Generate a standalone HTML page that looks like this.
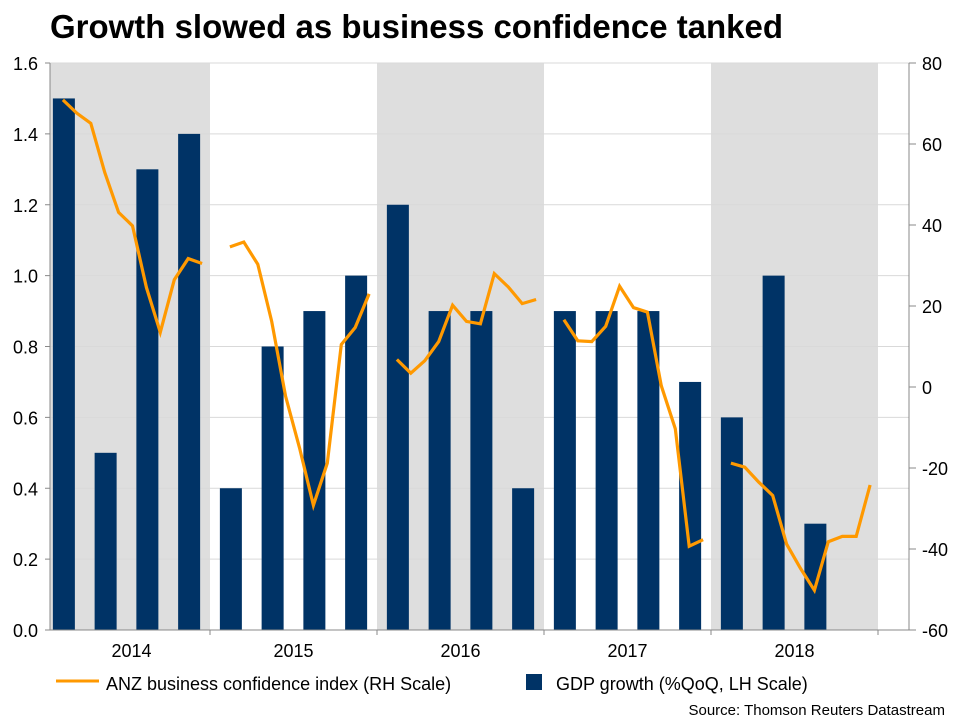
<!DOCTYPE html>
<html><head><meta charset="utf-8"><style>
body{margin:0;background:#fff;font-family:"Liberation Sans",Arial,sans-serif;}
svg text{font-family:"Liberation Sans",Arial,sans-serif;}
</style></head><body>
<svg id="chart" width="960" height="720" xmlns="http://www.w3.org/2000/svg">
<text x="50" y="38" font-size="33" font-weight="bold" fill="#000" textLength="733" lengthAdjust="spacingAndGlyphs">Growth slowed as business confidence tanked</text>
<g id="bg"></g><g id="grid"></g><g id="bars"></g><g id="line"></g><g id="axes"></g>
<g>
<line x1="56" y1="681" x2="99" y2="681" stroke="#FF9900" stroke-width="3"/>
<text x="106" y="690" font-size="18" fill="#000">ANZ business confidence index (RH Scale)</text>
<rect x="526" y="674" width="16" height="16" fill="#003366"/>
<text x="556" y="690" font-size="18" fill="#000">GDP growth (%QoQ, LH Scale)</text>
</g>
<text x="945" y="715" font-size="15" text-anchor="end" fill="#000">Source: Thomson Reuters Datastream</text>
</svg>
<script>
const years=["2014","2015","2016","2017","2018"];
const gdp=[1.5,0.5,1.3,1.4, 0.4,0.8,0.9,1.0, 1.2,0.9,0.9,0.4, 0.9,0.9,0.9,0.7, 0.6,1.0,0.3];
const anz2014=[null,70.9,67.6,65.1,53,43.1,39.8,24.6,13.5,26.5,31.7,30.5];
const anz2015=[null,34.6,35.8,30.3,16.2,-2.3,-15.0,-29.2,-18.8,10.5,14.7,23.0];
const anz2016=[null,6.8,3.4,6.5,11.2,20.2,16.2,15.6,28.0,24.7,20.6,21.6];
const anz2017=[null,16.6,11.4,11.2,15.0,24.9,19.6,18.5,0.3,-10.3,-39.3,-37.7];
const anz2018=[null,-18.8,-19.8,-23.5,-26.8,-38.8,-44.8,-50.2,-38.2,-36.9,-36.9,-24.2];
const leftTicks=[0,0.2,0.4,0.6,0.8,1.0,1.2,1.4,1.6];
const rightTicks=[-60,-40,-20,0,20,40,60,80];

const NS="http://www.w3.org/2000/svg";
const X0=43,YW=167,AXL=50,AXR=909,TOP=63,BOT=630;
const xYear=t=>X0+t*YW;
const yL=v=>BOT-(v/1.6)*(BOT-TOP);
const yR=v=>BOT-((v+60)/140)*(BOT-TOP);
function mk(tag,attrs,parent){const e=document.createElementNS(NS,tag);for(const k in attrs)e.setAttribute(k,attrs[k]);parent.appendChild(e);return e;}
const bg=document.getElementById('bg'),grid=document.getElementById('grid'),bars=document.getElementById('bars'),line=document.getElementById('line'),axes=document.getElementById('axes');

years.forEach((y,i)=>{
  if(i%2===0){
    const x1=Math.max(AXL,xYear(i)),x2=xYear(i+1);
    const r=mk('rect',{x:x1,y:TOP,width:x2-x1,height:BOT-TOP,fill:'#dedede'},bg);
    
    
  }
});
leftTicks.forEach(v=>{
  const l=mk('line',{x1:AXL,x2:AXR,y1:yL(v),y2:yL(v),stroke:'#d9d9d9','stroke-width':1},grid);
  
  
  const t=mk('text',{x:38,y:yL(v)+7,'font-size':18,'text-anchor':'end',fill:'#000'},axes);
  t.textContent=v.toFixed(1);
  
  
  mk('line',{x1:AXL-5,x2:AXL,y1:yL(v),y2:yL(v),stroke:'#888'},axes);
});
rightTicks.forEach(v=>{
  const t=mk('text',{x:922,y:yR(v)+7,'font-size':18,fill:'#000'},axes);
  t.textContent=v;
  
  
  mk('line',{x1:AXR,x2:AXR+7,y1:yR(v),y2:yR(v),stroke:'#888'},axes);
});
gdp.forEach((v,q)=>{
  const cx=X0+(q+0.5)*YW/4;
  const r=mk('rect',{x:cx-11,y:yL(v),width:22,height:BOT-yL(v),fill:'#003366'},bars);
  
  
});
[anz2014,anz2015,anz2016,anz2017,anz2018].forEach((arr,yi)=>{
  const pts=[];
  arr.forEach((v,m)=>{if(v!==null)pts.push((X0+6+(yi*12+m)*YW/12).toFixed(1)+','+yR(v).toFixed(1));});
  const p=mk('polyline',{points:pts.join(' '),fill:'none',stroke:'#FF9900','stroke-width':3.2,'stroke-linejoin':'miter'},line);
  
  
});
mk('line',{x1:AXL,x2:AXL,y1:TOP,y2:BOT,stroke:'#888'},axes);
mk('line',{x1:AXR,x2:AXR,y1:TOP,y2:BOT,stroke:'#888'},axes);
mk('line',{x1:AXL,x2:AXR,y1:BOT,y2:BOT,stroke:'#888'},axes);
for(let i=1;i<=5;i++){mk('line',{x1:xYear(i),x2:xYear(i),y1:BOT,y2:BOT+5,stroke:'#888'},axes);}
years.forEach((y,i)=>{
  const t=mk('text',{x:xYear(i+0.5)+(i===0?5:0),y:657,'font-size':18,'text-anchor':'middle',fill:'#000'},axes);
  t.textContent=y;
  
  
});
</script>
</body></html>
